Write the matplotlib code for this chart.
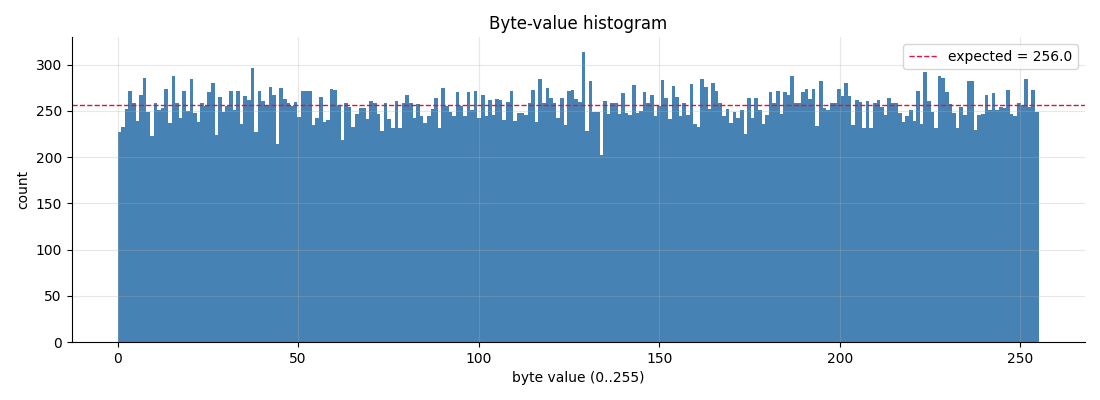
import numpy as np
import matplotlib
matplotlib.use("Agg")
import matplotlib.pyplot as plt

# 每个字节值的计数
counts = [
    227, 233, 252, 272, 258, 239, 267, 286, 249, 223, 259, 251, 253, 274, 237, 288,
    258, 242, 272, 250, 284, 248, 238, 258, 255, 270, 280, 224, 265, 249, 255, 271,
    251, 271, 236, 266, 262, 296, 227, 271, 261, 255, 276, 267, 214, 275, 263, 258,
    255, 260, 243, 272, 272, 271, 235, 242, 265, 238, 240, 274, 273, 255, 219, 258,
    254, 233, 247, 253, 253, 241, 261, 259, 247, 228, 258, 241, 232, 261, 232, 258,
    267, 258, 242, 257, 245, 237, 245, 252, 264, 232, 275, 255, 249, 245, 270, 255,
    245, 270, 251, 271, 242, 267, 245, 262, 246, 263, 262, 240, 260, 272, 239, 248,
    248, 246, 258, 273, 238, 284, 258, 275, 264, 258, 242, 264, 235, 271, 273, 263,
    260, 314, 228, 282, 249, 249, 202, 261, 247, 259, 258, 247, 269, 248, 246, 278,
    248, 250, 270, 258, 267, 245, 255, 283, 264, 241, 277, 265, 245, 259, 246, 279,
    236, 233, 284, 276, 252, 280, 272, 258, 245, 252, 237, 249, 242, 251, 225, 264,
    242, 264, 251, 236, 246, 270, 259, 272, 247, 270, 267, 288, 259, 258, 270, 274,
    263, 274, 234, 282, 253, 251, 258, 258, 274, 266, 280, 266, 235, 262, 260, 232,
    261, 232, 258, 262, 254, 246, 264, 258, 259, 248, 238, 244, 251, 239, 271, 236,
    292, 261, 249, 232, 288, 286, 270, 257, 248, 232, 254, 246, 282, 282, 229, 246,
    247, 267, 251, 269, 251, 254, 253, 273, 247, 245, 258, 256, 285, 254, 273, 249,
]
EXPECTED = 256.0

counts = np.array(counts)
edges = np.linspace(0, 255, len(counts) + 1)  # hist(bins=256) 的箱边界

fig, ax = plt.subplots(figsize=(11, 4), dpi=100)
ax.bar(edges[:-1], counts, width=np.diff(edges), align="edge", color="steelblue")
ax.axhline(EXPECTED, color="crimson", linestyle="--", linewidth=1,
           label=f"expected = {EXPECTED}")
ax.set_title("Byte-value histogram")
ax.set_xlabel("byte value (0..255)")
ax.set_ylabel("count")
ax.grid(True, alpha=0.3)
ax.legend(loc="upper right")
ax.spines["top"].set_visible(False)
ax.spines["right"].set_visible(False)
plt.subplots_adjust(left=0.065, right=0.986, top=0.907, bottom=0.145)
plt.savefig("out.png")
